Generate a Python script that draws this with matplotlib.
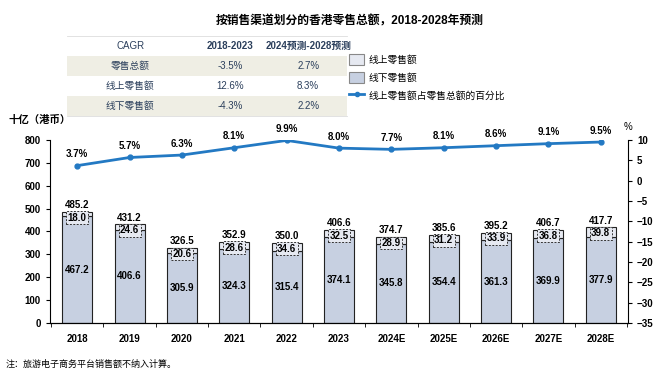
import matplotlib
matplotlib.use("Agg")
import matplotlib.pyplot as plt
from matplotlib.patches import Patch, Rectangle
from matplotlib.lines import Line2D
import numpy as np

plt.rcParams['font.family'] = ['Liberation Sans', 'Noto Sans CJK SC', 'DejaVu Sans']

years = ['2018', '2019', '2020', '2021', '2022', '2023',
         '2024E', '2025E', '2026E', '2027E', '2028E']
offline = [467.2, 406.6, 305.9, 324.3, 315.4, 374.1, 345.8, 354.4, 361.3, 369.9, 377.9]
online = [18.0, 24.6, 20.6, 28.6, 34.6, 32.5, 28.9, 31.2, 33.9, 36.8, 39.8]
total = [485.2, 431.2, 326.5, 352.9, 350.0, 406.6, 374.7, 385.6, 395.2, 406.7, 417.7]
online_share = [3.7, 5.7, 6.3, 8.1, 9.9, 8.0, 7.7, 8.1, 8.6, 9.1, 9.5]

cagr_header = ['CAGR', '2018-2023', '2024预测-2028预测']
cagr_rows = [
    ['零售总额', '-3.5%', '2.7%'],
    ['线上零售额', '12.6%', '8.3%'],
    ['线下零售额', '-4.3%', '2.2%'],
]

c_off = '#c7d0e1'
c_on = '#e6e9f1'
c_line = '#2379c3'
txt_blue = '#2b3f5c'

fig = plt.figure(figsize=(6.67, 3.82), dpi=100)
ax = fig.add_axes([0.075, 0.1545, 0.8665, 0.479])
ax2 = ax.twinx()

x = np.arange(len(years))
w = 0.57
ax.bar(x, offline, w, color=c_off, edgecolor='#222222', linewidth=0.8, zorder=2)
ax.bar(x, online, w, bottom=offline, color=c_on, edgecolor='#222222',
       linewidth=0.8, zorder=2)

for i in range(len(years)):
    ax.text(x[i], total[i] + 8, f'{total[i]:.1f}', ha='center', va='bottom',
            fontsize=7, fontweight='bold')
    ax.text(x[i], total[i] - 3, f'{online[i]:.1f}', ha='center', va='top',
            fontsize=7, fontweight='bold', zorder=4,
            bbox=dict(boxstyle='square,pad=0.15', fc=c_on, ec='#333333',
                      lw=0.7, ls=(0, (2, 1.5))))
    ax.text(x[i], offline[i] / 2, f'{offline[i]:.1f}', ha='center',
            va='center', fontsize=7, fontweight='bold')

ax.set_ylim(0, 800)
ax.set_xlim(-0.52, len(years) - 0.48)
ax.set_yticks(range(0, 801, 100))
ax.set_xticks(x)
ax.set_xticklabels(years, fontsize=7, fontweight='bold')
ax.set_xticks(np.arange(-0.5, len(years), 1), minor=True)
ax.tick_params(axis='x', which='major', length=0, pad=8)
ax.tick_params(axis='x', which='minor', length=3, direction='out')
ax.tick_params(axis='y', labelsize=7, length=3, direction='out')
for lab in ax.get_yticklabels():
    lab.set_fontweight('bold')
for s in ['top', 'right']:
    ax.spines[s].set_visible(False)

ax2.plot(x, online_share, color=c_line, lw=2, marker='o', ms=3.5, zorder=5)
for i in range(len(years)):
    ax2.text(x[i], online_share[i] + 1.6, f'{online_share[i]:.1f}%',
             ha='center', va='bottom', fontsize=7, fontweight='bold')
ax2.set_ylim(-35, 10)
ax2.set_yticks(range(-35, 11, 5))
ax2.tick_params(axis='y', labelsize=7, length=3, direction='out')
for lab in ax2.get_yticklabels():
    lab.set_fontweight('bold')
ax2.spines['top'].set_visible(False)
ax2.spines['left'].set_visible(False)
ax.set_zorder(1)
ax2.set_zorder(2)
ax2.patch.set_visible(False)

fig.text(0.012, 0.685, '十亿（港币）', fontsize=7.5, fontweight='bold', va='center')
fig.text(0.935, 0.668, '%', fontsize=7, va='center')
fig.text(0.525, 0.945, '按销售渠道划分的香港零售总额，2018-2028年预测', ha='center',
         va='center', fontsize=8.5, fontweight='bold')
fig.text(0.008, 0.045, '注：旅游电子商务平台销售额不纳入计算。', fontsize=6.5,
         style='italic', va='center')

# CAGR table
tx0, tx1 = 0.100, 0.520
row_h = 0.052
top = 0.905
col_x = [0.195, 0.345, 0.462]
for r in range(4):
    y0 = top - (r + 1) * row_h
    if r in (1, 3):
        fig.patches.append(Rectangle((tx0, y0), tx1 - tx0, row_h,
                                     transform=fig.transFigure,
                                     fc='#efeee4', ec='none'))
    cells = cagr_header if r == 0 else cagr_rows[r - 1]
    for c, t in enumerate(cells):
        fw = 'bold' if (r == 0 and c > 0) else 'normal'
        fig.text(col_x[c], y0 + row_h / 2, t, ha='center', va='center',
                 fontsize=7, color=txt_blue, fontweight=fw)
fig.add_artist(Line2D([tx0, tx1], [top, top], transform=fig.transFigure,
                      color='#dddddd', lw=0.6))
fig.add_artist(Line2D([tx0, tx1], [top - 4 * row_h] * 2,
                      transform=fig.transFigure, color='#dddddd', lw=0.6))

handles = [Patch(fc=c_on, ec='#888888', lw=0.8),
           Patch(fc=c_off, ec='#888888', lw=0.8),
           Line2D([], [], color=c_line, lw=2, marker='o', ms=3)]
labels = ['线上零售额', '线下零售额', '线上零售额占零售总额的百分比']
fig.legend(handles, labels, loc='upper left', bbox_to_anchor=(0.518, 0.868),
           frameon=False, fontsize=7, handlelength=1.5, handleheight=1.3,
           labelspacing=0.75, handletextpad=0.5, borderaxespad=0)

fig.savefig('out.png', dpi=100)
